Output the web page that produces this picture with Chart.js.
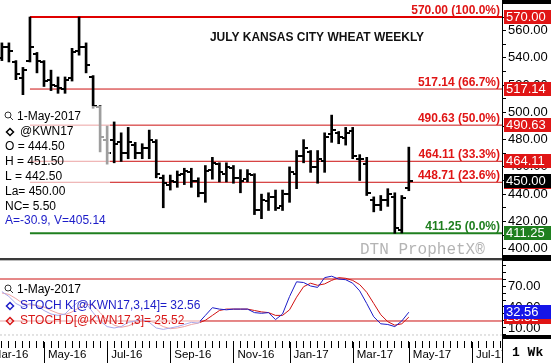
<!DOCTYPE html>
<html>
<head>
<meta charset="utf-8">
<script src="https://cdn.jsdelivr.net/npm/chart.js@4.4.1/dist/chart.umd.min.js"></script>
<style>
html,body{margin:0;padding:0;background:#fff}
#wrap{position:relative;width:551px;height:363px}
</style>
</head>
<body>
<div id="wrap"><canvas id="c" width="551" height="363"></canvas></div>
<script>
// weekly bars, first one is 21-Mar-2016, last one 1-May-2017
var opens  = [540,548,537,525,538,543,537,524,519,517,525,545,548,526,504,480,480,478,470,476,470,474,478,452,447,449,455,456,450,441,458,462,455,459,452,451,454,428,435,438,431,440,455,468,471,460,464,484,485,481,486,466,462,436,432,436,438,414,444.5];
var highs  = [551,551,538,533,570,544,538,531,526,526,547,570,551,527,505,490,493,485,489,478,477,487,480,454,454,457,459,459,452,461,467,463,463,461,458,458,455,440,441,443,443,460,472,480,472,472,485,498,486,489,489,469,467,438,439,444,441,439,474.5];
var lows   = [538,537,524,513,537,529,519,516,514,514,523,542,529,503,471,462,463,464,466,466,466,466,452,430,443,445,447,445,438,434,451,449,449,448,441,449,425,422,428,428,428,434,444,463,456,448,456,478,477,476,466,450,439,427,428,431,411.25,411.5,442.5];
var closes = [548,545,528,531,548,538,523,520,518,524,544,548,535,505,482,470,477,470,478,470,474,480,455,448,450,454,457,450,441,457,463,456,460,452,450,455,428,436,438,430,440,456,468,474,460,466,482,487,482,485,468,466,441,432,436,440,415,437,450];

var stochK = [62,55,45,40,45,42,35,30,28,30,40,48,45,32,20,12,10,12,18,20,22,18,10,8,10,12,15,18,17,28,39,37,36,37,37,37,32,31,32,22,30,55,76,75,70,68,82,84,80,79,74,63,45,26,16,15,12,20,32.56];
var stochD = [60,58,52,45,43,42,40,35,31,29,33,39,44,42,32,21,14,11,13,17,20,20,17,12,9,10,12,15,17,21,28,35,37,37,37,37,35,33,32,28,28,36,54,69,74,71,73,78,82,81,78,72,61,45,29,19,14,16,25.52];

var fibLevels = [570, 517.14, 490.63, 464.11, 448.71, 411.25];
var fibPct = ['100.0%', '66.7%', '50.0%', '33.3%', '23.6%', '0.0%'];
var fibStart = 4; // the week of the 570 high
var lastPrice = 450;

var priceTicks = [400, 420, 440, 460, 480, 500, 520, 540, 560];
var stochLabels = [10, 40, 70];
var stochBands = [80, 20];

var monthIdx = [-2, 6, 15, 24, 33, 41, 50, 58, 67];
var monthLabels = ['Mar-16', 'May-16', 'Jul-16', 'Sep-16', 'Nov-16', 'Jan-17', 'Mar-17', 'May-17', 'Jul-17'];

var infoLines = ['O = 444.50', 'H = 451.50', 'L = 442.50', 'La= 450.00', 'NC= 5.50'];

var xMin = -0.27, xMax = 71.28;
var FONT = '"Liberation Sans", Arial, sans-serif';
var RED = '#d81818', BLUE = '#1c1cc8', GREEN = '#1f7f1f';

var datasets = [];
datasets.push({
  type: 'bar', label: 'KWN17',
  data: highs.map(function(h, i) { return {x: i, y: [lows[i], h]}; }),
  backgroundColor: '#000', borderWidth: 0, barThickness: 2,
  xAxisID: 'x', yAxisID: 'y', order: 1
});
fibLevels.forEach(function(lv, k) {
  datasets.push({
    type: 'line', label: fibPct[k],
    data: [{x: fibStart, y: lv}, {x: xMax, y: lv}],
    borderColor: k == 5 ? GREEN : (k == 0 ? '#e00000' : '#cc1010'),
    borderWidth: (k == 0 || k == 5) ? 2 : 1,
    pointRadius: 0, xAxisID: 'x', yAxisID: 'y', order: 5
  });
});
stochBands.forEach(function(b) {
  datasets.push({
    type: 'line', data: [{x: xMin, y: b}, {x: xMax, y: b}],
    borderColor: '#cc1010', borderWidth: 1, pointRadius: 0,
    xAxisID: 'x', yAxisID: 'y2', order: 5
  });
});
datasets.push({
  type: 'line', data: [{x: xMin, y: 0}, {x: xMax, y: 0}],
  borderColor: '#c8c8c8', borderWidth: 1, borderDash: [2, 2], pointRadius: 0,
  xAxisID: 'x', yAxisID: 'y2', order: 6
});
datasets.push({
  type: 'line', label: 'STOCH D',
  data: stochD.map(function(v, i) { return {x: i, y: v}; }),
  borderColor: '#d01010', borderWidth: 1, pointRadius: 0, tension: 0,
  xAxisID: 'x', yAxisID: 'y2', order: 3
});
datasets.push({
  type: 'line', label: 'STOCH K',
  data: stochK.map(function(v, i) { return {x: i, y: v}; }),
  borderColor: BLUE, borderWidth: 1, pointRadius: 0, tension: 0,
  xAxisID: 'x', yAxisID: 'y2', order: 2
});

function magnifier(c, x, y) {
  c.strokeStyle = '#333'; c.lineWidth = 1;
  c.beginPath(); c.arc(x, y, 3, 0, Math.PI * 2); c.stroke();
  c.beginPath(); c.moveTo(x + 2, y + 2); c.lineTo(x + 5, y + 5); c.stroke();
}
function diamond(c, x, y, col) {
  c.strokeStyle = col; c.lineWidth = 1.5;
  c.beginPath(); c.moveTo(x, y - 3.5); c.lineTo(x + 3.5, y); c.lineTo(x, y + 3.5); c.lineTo(x - 3.5, y); c.closePath(); c.stroke();
}
function valueBox(c, y, txt, bg) {
  c.fillStyle = bg;
  c.fillRect(504, Math.round(y) - 7, 47, 14);
  c.fillStyle = '#fff';
  c.font = '13px ' + FONT;
  c.textAlign = 'left'; c.textBaseline = 'middle';
  c.fillText(txt, 506, Math.round(y) + 0.5);
}
// no automatic label padding: the plot runs edge to edge like the original
function noPad(s) {
  s.paddingLeft = 0; s.paddingRight = 0; s.paddingTop = 0; s.paddingBottom = 0;
}

var chartExtras = {
  id: 'extras',
  afterDatasetsDraw: function(chart) {
    var c = chart.ctx, xs = chart.scales.x, ys = chart.scales.y;
    c.save();
    // open / close ticks
    c.fillStyle = '#000';
    opens.forEach(function(o, i) {
      var px = Math.round(xs.getPixelForValue(i));
      c.fillRect(px - 4, Math.round(ys.getPixelForValue(o)) - 1, 3, 2);
      c.fillRect(px + 1, Math.round(ys.getPixelForValue(closes[i])) - 1, 3, 2);
    });
    // washed info panels
    c.fillStyle = 'rgba(255,255,255,0.62)';
    c.fillRect(0, 106, 110, 122);
    c.fillRect(0, 282, 200, 48);

    // title
    c.fillStyle = '#111';
    c.font = 'bold 12px ' + FONT;
    c.textAlign = 'center'; c.textBaseline = 'middle';
    c.fillText('JULY KANSAS CITY WHEAT WEEKLY', 317, 38);

    // fib labels
    c.font = 'bold 12px ' + FONT;
    c.textAlign = 'right'; c.textBaseline = 'alphabetic';
    fibLevels.forEach(function(lv, k) {
      c.fillStyle = k == 5 ? GREEN : '#e01515';
      c.fillText(lv.toFixed(2) + ' (' + fibPct[k] + ')', 500, Math.round(ys.getPixelForValue(lv)) - 3);
    });

    // watermark
    c.fillStyle = '#b4b4b4';
    c.font = '16px "Liberation Mono", "Courier New", monospace';
    c.textAlign = 'left';
    c.fillText('DTN ProphetX\u00ae', 360, 254);

    // price info panel
    c.font = '12px ' + FONT;
    c.textBaseline = 'middle';
    magnifier(c, 8, 115);
    c.fillStyle = '#000';
    c.fillText('1-May-2017', 17, 117);
    diamond(c, 10, 132, '#000');
    c.fillText('@KWN17', 20, 132);
    infoLines.forEach(function(t, k) { c.fillText(t, 5, 147 + k * 15); });
    c.fillStyle = BLUE;
    c.fillText('A=-30.9, V=405.14', 5, 221);

    // stoch info panel
    magnifier(c, 8, 288);
    c.fillStyle = '#000';
    c.fillText('1-May-2017', 17, 290);
    diamond(c, 10, 306, BLUE);
    c.fillStyle = BLUE;
    c.fillText('STOCH K[@KWN17,3,14]= ' + stochK[stochK.length - 1].toFixed(2), 20, 306);
    diamond(c, 10, 321, RED);
    c.fillStyle = RED;
    c.fillText('STOCH D[@KWN17,3]= ' + stochD[stochD.length - 1].toFixed(2), 20, 321);
    c.restore();
  },
  afterDraw: function(chart) {
    var c = chart.ctx, xs = chart.scales.x, ys = chart.scales.y, y2 = chart.scales.y2;
    c.save();
    // panel separator
    c.fillStyle = '#3a3a3a';
    c.fillRect(0, 258, 502, 2);
    c.fillStyle = '#bbb';
    c.fillRect(0, 260, 502, 1);
    // right axis black blocks
    c.fillStyle = '#000';
    c.fillRect(502, 0, 49, 4);
    c.fillRect(502, 255, 49, 6);
    c.fillRect(502, 335, 49, 4);

    // price value boxes
    fibLevels.forEach(function(lv, k) {
      valueBox(c, ys.getPixelForValue(lv), lv.toFixed(2), k == 5 ? GREEN : '#e01515');
    });
    valueBox(c, ys.getPixelForValue(lastPrice), lastPrice.toFixed(2), '#000');
    // stoch value boxes
    valueBox(c, y2.getPixelForValue(stochD[stochD.length - 1]), stochD[stochD.length - 1].toFixed(2), '#e01515');
    valueBox(c, y2.getPixelForValue(stochK[stochK.length - 1]), stochK[stochK.length - 1].toFixed(2), '#1515e8');

    // month separators
    c.fillStyle = '#000';
    monthIdx.forEach(function(m) {
      c.fillRect(Math.round(xs.getPixelForValue(m)), 342, 1, 21);
    });
    // period box
    c.fillStyle = '#fff';
    c.fillRect(502, 340, 49, 23);
    c.fillStyle = '#000';
    c.fillRect(502, 340, 1, 23);
    c.font = 'bold 13px "Liberation Mono", "Courier New", monospace';
    c.textAlign = 'left'; c.textBaseline = 'middle';
    c.fillText('1 Wk', 512, 353);
    c.restore();
  }
};

new Chart(document.getElementById('c').getContext('2d'), {
  type: 'bar',
  data: {datasets: datasets},
  options: {
    responsive: false, animation: false,
    layout: {padding: 0},
    plugins: {legend: {display: false}, tooltip: {enabled: false}},
    scales: {
      x: {
        type: 'linear', min: xMin, max: xMax, offset: false, position: 'bottom', bounds: 'data',
        grid: {drawOnChartArea: false, offset: false, tickLength: 7, color: '#000'},
        border: {display: false},
        ticks: {
          autoSkip: false, maxRotation: 0, minRotation: 0, align: 'start', labelOffset: 4, padding: 0,
          color: '#000', font: {size: 11.5, family: FONT},
          callback: function(v) { var k = monthIdx.indexOf(v); return k < 0 ? '' : monthLabels[k]; }
        },
        afterBuildTicks: function(s) {
          var t = [];
          for (var w = -2; w <= 71; w++) t.push({value: w});
          s.ticks = t;
        },
        afterFit: function(s) { s.height = 22; noPad(s); }
      },
      y: {
        position: 'right', stack: 'panes', stackWeight: 259, bounds: 'data',
        min: 392.4, max: 582.48,
        grid: {drawOnChartArea: false, tickLength: 4, color: '#000'},
        border: {display: true, color: '#000'},
        ticks: {
          autoSkip: false, color: '#000', padding: 2, font: {size: 13, family: FONT},
          callback: function(v) { return priceTicks.indexOf(v) < 0 ? '' : v.toFixed(2); }
        },
        afterBuildTicks: function(s) {
          var t = [];
          for (var v = 400; v <= 570; v += 10) t.push({value: v});
          s.ticks = t;
        },
        afterFit: function(s) { s.width = 49; noPad(s); }
      },
      y2: {
        position: 'right', stack: 'panes', stackWeight: 82, bounds: 'data',
        min: -8.6, max: 108.6,
        grid: {drawOnChartArea: false, tickLength: 4, color: '#000'},
        border: {display: true, color: '#000'},
        ticks: {
          autoSkip: false, color: '#000', padding: 2, font: {size: 13, family: FONT},
          callback: function(v) { return stochLabels.indexOf(v) < 0 ? '' : v.toFixed(2); }
        },
        afterBuildTicks: function(s) {
          var t = [];
          for (var v = 0; v <= 100; v += 10) t.push({value: v});
          s.ticks = t;
        },
        afterFit: function(s) { s.width = 49; noPad(s); }
      }
    }
  },
  plugins: [chartExtras]
});
</script>
</body>
</html>
